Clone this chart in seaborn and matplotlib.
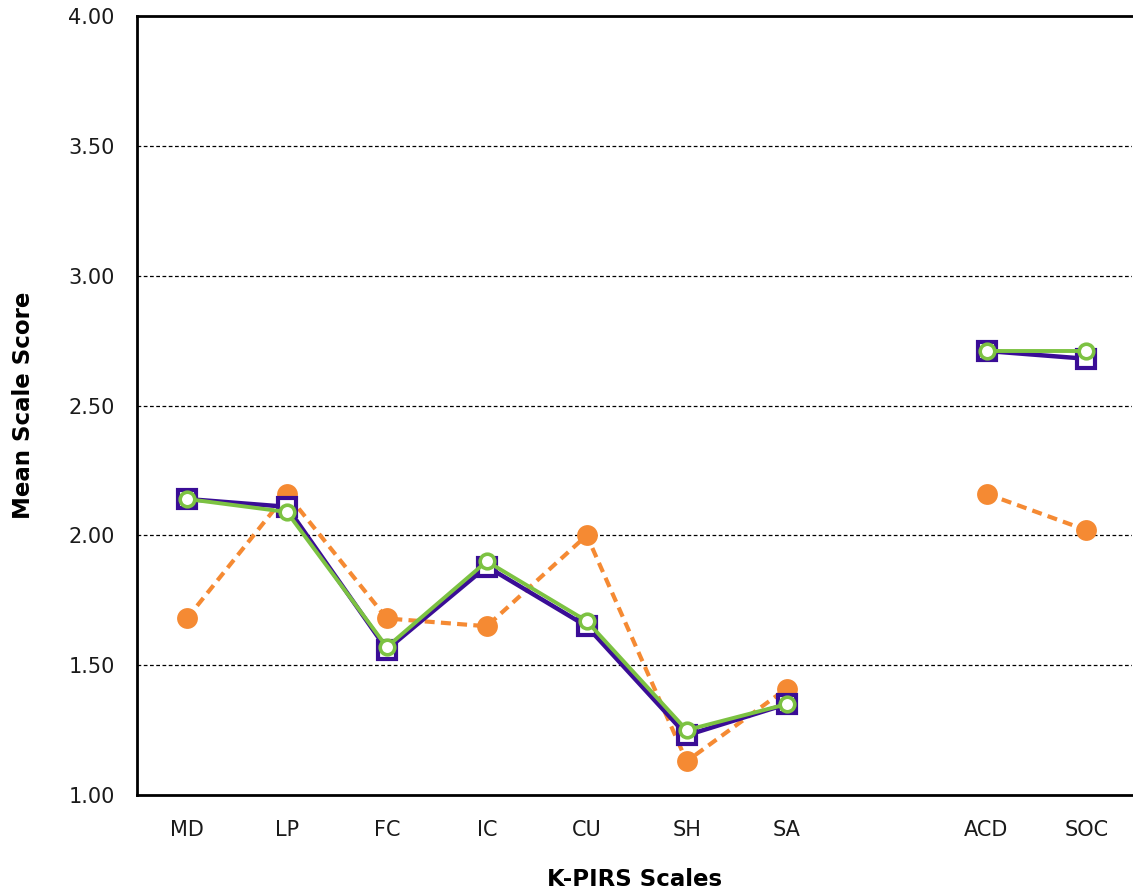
import numpy as np
import pandas as pd
import matplotlib
matplotlib.use("Agg")
import matplotlib.pyplot as plt
import seaborn as sns

# Scale labels and their slot on the x axis (gap between SA and ACD)
scales = ['MD', 'LP', 'FC', 'IC', 'CU', 'SH', 'SA', 'ACD', 'SOC']
slots = [0, 1, 2, 3, 4, 5, 6, 8, 9]
block = [1, 1, 1, 1, 1, 1, 1, 2, 2]

orange_vals = [1.68, 2.16, 1.68, 1.65, 2.00, 1.13, 1.41, 2.16, 2.02]
purple_vals = [2.14, 2.11, 1.56, 1.88, 1.65, 1.23, 1.35, 2.71, 2.68]
green_vals = [2.14, 2.09, 1.57, 1.90, 1.67, 1.25, 1.35, 2.71, 2.71]

df = pd.DataFrame({'slot': slots, 'scale': scales, 'block': block,
                   'orange': orange_vals, 'purple': purple_vals, 'green': green_vals})

sns.set_theme(style="white")
plt.rcParams['font.family'] = ['DejaVu Sans']

fig = plt.figure(figsize=(11.33, 8.94), dpi=100)
ax = fig.add_axes([0.1209, 0.1107, 0.8786, 0.8714])

styles = {
    'orange': dict(color='#F58A33', linestyle=(0, (2.4, 1.5)), linewidth=3,
                   marker='o', markersize=15, markerfacecolor='#F58A33',
                   markeredgecolor='#F58A33', markeredgewidth=0),
    'purple': dict(color='#3A0D96', linestyle='-', linewidth=3.2,
                   marker='s', markersize=13, markerfacecolor='white',
                   markeredgecolor='#3A0D96', markeredgewidth=3),
    'green': dict(color='#7CC242', linestyle='-', linewidth=2.8,
                  marker='o', markersize=10.5, markerfacecolor='white',
                  markeredgecolor='#7CC242', markeredgewidth=2.6),
}

for series, kw in styles.items():
    for b, part in df.groupby('block'):
        sns.lineplot(data=part, x='slot', y=series, ax=ax, legend=False,
                     sort=False, estimator=None, **kw)

ax.set_xlim(-0.5, 9.46)
ax.set_ylim(1.0, 4.0)
ax.set_yticks([1.0, 1.5, 2.0, 2.5, 3.0, 3.5, 4.0])
ax.set_yticklabels([f'{v:.2f}' for v in [1.0, 1.5, 2.0, 2.5, 3.0, 3.5, 4.0]])
ax.set_xticks(slots)
ax.set_xticklabels(scales)
ax.tick_params(axis='both', length=0, labelsize=15, colors='#1a1a1a')
ax.tick_params(axis='x', pad=18)
ax.tick_params(axis='y', pad=16)

for v in [1.5, 2.0, 2.5, 3.0, 3.5]:
    ax.axhline(v, color='black', linestyle=(0, (3, 2)), linewidth=0.9, zorder=0)

for side in ['left', 'top', 'bottom']:
    ax.spines[side].set_visible(True)
    ax.spines[side].set_color('black')
    ax.spines[side].set_linewidth(2)
ax.spines['right'].set_visible(False)

ax.set_xlabel('K-PIRS Scales', fontsize=16.5, fontweight='bold', labelpad=20,
              color='black')
ax.set_ylabel('Mean Scale Score', fontsize=16.5, fontweight='bold', labelpad=24,
              color='black')

fig.savefig('out.png', dpi=100)
